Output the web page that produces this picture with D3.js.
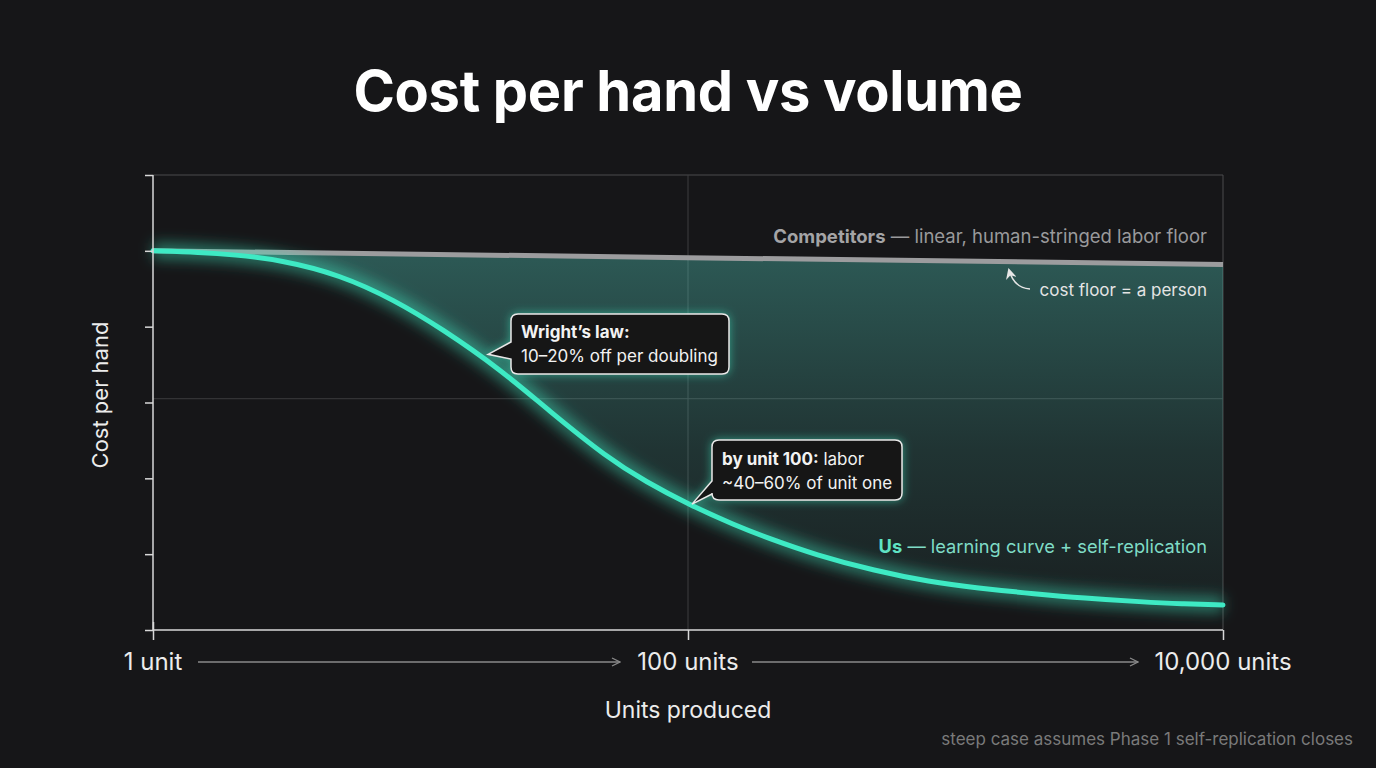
<!DOCTYPE html>
<html>
<head>
<meta charset="utf-8">
<script src="https://cdn.jsdelivr.net/npm/d3@7"></script>
<style>
  html, body { margin: 0; padding: 0; background: #161618; }
  svg { display: block; font-family: Inter, "Noto Sans", sans-serif; }
</style>
</head>
<body>
<svg id="chart" width="1376" height="768"></svg>
<script>
// ---- data ----
const units = [1, 1.5, 2, 3, 5, 8, 12, 20, 30, 50, 70, 100, 150, 200, 300, 500, 800, 1200, 2000, 3000, 5000, 7000, 10000];
const usCost = [100, 99.6, 99, 97.6, 93.7, 87, 79.5, 68.6, 58, 45.4, 39, 33.2, 27.6, 24.2, 19.8, 15.6, 12.7, 11.1, 9.5, 8.4, 7.4, 6.9, 6.6];
const compUnits = [1, 100, 10000];
const compCost = [100, 98.2, 96.4];
const xTickValues = [1, 100, 10000];
const xTickLabels = ["1 unit", "100 units", "10,000 units"];
const yTickValues = [0, 20, 40, 60, 80, 100, 120];

const W = 1376, H = 768;
const m = { left: 153, right: 1223, top: 175, bottom: 630 };
const svg = d3.select("#chart");

svg.append("rect").attr("width", W).attr("height", H).attr("fill", "#161618");

const x = d3.scaleLog().domain([1, 10000]).range([m.left, m.right]);
const y = d3.scaleLinear().domain([0, 120]).range([m.bottom, m.top]);

const defs = svg.append("defs");
const grad = defs.append("linearGradient").attr("id", "fillGrad")
  .attr("gradientUnits", "userSpaceOnUse").attr("x1", 0).attr("y1", y(100)).attr("x2", 0).attr("y2", y(5));
grad.append("stop").attr("offset", 0).attr("stop-color", "#55d2c3").attr("stop-opacity", 0.36);
grad.append("stop").attr("offset", 0.55).attr("stop-color", "#55d2c3").attr("stop-opacity", 0.16);
grad.append("stop").attr("offset", 1).attr("stop-color", "#55d2c3").attr("stop-opacity", 0.05);

const glow = defs.append("filter").attr("id", "glow").attr("x", "-10%").attr("y", "-20%").attr("width", "120%").attr("height", "140%");
glow.append("feGaussianBlur").attr("stdDeviation", 7);

const boxGlow = defs.append("filter").attr("id", "boxGlow").attr("x", "-20%").attr("y", "-40%").attr("width", "140%").attr("height", "180%");
boxGlow.append("feDropShadow").attr("dx", 0).attr("dy", 0).attr("stdDeviation", 5)
  .attr("flood-color", "#3eeac4").attr("flood-opacity", 0.55);

const arrowHead = defs.append("marker").attr("id", "chev").attr("viewBox", "0 0 10 10")
  .attr("refX", 9).attr("refY", 5).attr("markerWidth", 10).attr("markerHeight", 10)
  .attr("markerUnits", "userSpaceOnUse").attr("orient", "auto");
arrowHead.append("path").attr("d", "M1,1 L9,5 L1,9").attr("fill", "none").attr("stroke", "#8a8a8a").attr("stroke-width", 1.3);

const arrowHead2 = defs.append("marker").attr("id", "tri").attr("viewBox", "0 0 10 10")
  .attr("refX", 8).attr("refY", 5).attr("markerWidth", 11).attr("markerHeight", 11)
  .attr("markerUnits", "userSpaceOnUse").attr("orient", "auto");
arrowHead2.append("path").attr("d", "M0,0 L10,5 L0,10 L3,5 Z").attr("fill", "#e6e6e6");

// ---- grid / frame ----
const g = svg.append("g");
g.append("line").attr("x1", m.left).attr("x2", m.right).attr("y1", y(120)).attr("y2", y(120)).attr("stroke", "#4a4a4c").attr("stroke-width", 1);
g.append("line").attr("x1", x(10000)).attr("x2", x(10000)).attr("y1", m.top).attr("y2", m.bottom).attr("stroke", "#4a4a4c").attr("stroke-width", 1);
g.append("line").attr("x1", m.left).attr("x2", m.right).attr("y1", y(61)).attr("y2", y(61)).attr("stroke", "#3c3c3e").attr("stroke-width", 1);
g.append("line").attr("x1", x(100)).attr("x2", x(100)).attr("y1", m.top).attr("y2", m.bottom).attr("stroke", "#3c3c3e").attr("stroke-width", 1);

// ---- fill between ----
const compInterp = u => {
  const lu = Math.log10(u);
  const i = lu <= 2 ? 0 : 1;
  const t = (lu - Math.log10(compUnits[i])) / (Math.log10(compUnits[i + 1]) - Math.log10(compUnits[i]));
  return compCost[i] + t * (compCost[i + 1] - compCost[i]);
};
const areaData = units.map((u, i) => ({ u, lo: usCost[i], hi: compInterp(u) }));
svg.append("path").datum(areaData)
  .attr("d", d3.area().x(d => x(d.u)).y0(d => y(d.lo)).y1(d => y(d.hi)).curve(d3.curveBasis))
  .attr("fill", "url(#fillGrad)");

// ---- competitor line ----
svg.append("path").datum(compUnits.map((u, i) => ({ u, c: compCost[i] })))
  .attr("d", d3.line().x(d => x(d.u)).y(d => y(d.c)))
  .attr("fill", "none").attr("stroke", "#9c9c9e").attr("stroke-width", 5);

// ---- us line (glow + core) ----
const usData = units.map((u, i) => ({ u, c: usCost[i] }));
const usLine = d3.line().x(d => x(d.u)).y(d => y(d.c)).curve(d3.curveBasis);
svg.append("path").datum(usData).attr("d", usLine)
  .attr("fill", "none").attr("stroke", "#3eeac4").attr("stroke-width", 16).attr("stroke-opacity", 0.45)
  .attr("filter", "url(#glow)");
svg.append("path").datum(usData).attr("d", usLine)
  .attr("fill", "none").attr("stroke", "#3eeac4").attr("stroke-width", 5).attr("stroke-linecap", "round");

// ---- axes ----
const yAxis = svg.append("g").attr("transform", `translate(${m.left},0)`)
  .call(d3.axisLeft(y).tickValues(yTickValues).tickSize(8).tickFormat(""));
yAxis.selectAll("path, line").attr("stroke", "#d8d8d8").attr("stroke-width", 1.5);
yAxis.select(".domain").attr("d", `M0,${m.top}V${m.bottom}`);

const xAxis = svg.append("g").attr("transform", `translate(0,${m.bottom})`)
  .call(d3.axisBottom(x).tickValues(xTickValues).tickSize(10).tickFormat(""));
xAxis.selectAll("path, line").attr("stroke", "#d8d8d8").attr("stroke-width", 1.5);
xAxis.select(".domain").attr("d", `M${m.left},0H${m.right}`);
xAxis.select(".tick line").attr("y1", -8);

// x tick labels + arrows
xTickValues.forEach((v, i) => {
  svg.append("text").attr("x", x(v)).attr("y", 670).attr("text-anchor", "middle")
    .attr("fill", "#ececec").attr("font-size", 24).text(xTickLabels[i]);
});
svg.append("line").attr("x1", 198).attr("x2", 620).attr("y1", 662).attr("y2", 662)
  .attr("stroke", "#8a8a8a").attr("stroke-width", 1.3).attr("marker-end", "url(#chev)");
svg.append("line").attr("x1", 752).attr("x2", 1138).attr("y1", 662).attr("y2", 662)
  .attr("stroke", "#8a8a8a").attr("stroke-width", 1.3).attr("marker-end", "url(#chev)");

// axis titles
svg.append("text").attr("x", 688).attr("y", 718).attr("text-anchor", "middle")
  .attr("fill", "#ececec").attr("font-size", 23).text("Units produced");
svg.append("text").attr("transform", "translate(108,395) rotate(-90)").attr("text-anchor", "middle")
  .attr("fill", "#ececec").attr("font-size", 22).text("Cost per hand");

// title
svg.append("text").attr("x", 688).attr("y", 111).attr("text-anchor", "middle")
  .attr("fill", "#ffffff").attr("font-size", 56).attr("font-weight", 700).attr("letter-spacing", -0.3)
  .text("Cost per hand vs volume");

// footnote
svg.append("text").attr("x", 1353).attr("y", 745).attr("text-anchor", "end")
  .attr("fill", "#7a7a7a").attr("font-size", 17).text("steep case assumes Phase 1 self-replication closes");

// ---- series labels ----
const compLbl = svg.append("text").attr("x", 1207).attr("y", 243).attr("text-anchor", "end")
  .attr("font-size", 18.5).attr("fill", "#9a9a9c");
compLbl.append("tspan").attr("font-weight", 700).attr("fill", "#a4a4a6").text("Competitors");
compLbl.append("tspan").text(" — linear, human-stringed labor floor");

svg.append("text").attr("x", 1207).attr("y", 296).attr("text-anchor", "end")
  .attr("font-size", 17).attr("fill", "#e4e4e4").text("cost floor = a person");
svg.append("path").attr("d", "M1030,289 Q1014,288 1009,270")
  .attr("fill", "none").attr("stroke", "#e6e6e6").attr("stroke-width", 1.5).attr("marker-end", "url(#tri)");

const usLbl = svg.append("text").attr("x", 1207).attr("y", 553).attr("text-anchor", "end")
  .attr("font-size", 18.3).attr("fill", "#7fdcc6");
usLbl.append("tspan").attr("font-weight", 700).attr("fill", "#5fe3c4").text("Us");
usLbl.append("tspan").text(" — learning curve + self-replication");

// ---- callouts ----
function callout(bx, by, bw, bh, tip, baseY1, baseY2) {
  const r = 7;
  const [tx, ty] = tip;
  const d = `M${bx + r},${by} H${bx + bw - r} Q${bx + bw},${by} ${bx + bw},${by + r}
    V${by + bh - r} Q${bx + bw},${by + bh} ${bx + bw - r},${by + bh} H${bx + r}
    Q${bx},${by + bh} ${bx},${by + bh - r} V${baseY2} L${tx},${ty} L${bx},${baseY1}
    V${by + r} Q${bx},${by} ${bx + r},${by} Z`;
  svg.append("path").attr("d", d).attr("fill", "#141416").attr("stroke", "#e8e8e8")
    .attr("stroke-width", 1.5).attr("filter", "url(#boxGlow)");
}
const tip1 = [x(17.9), y(72.7)];
callout(511, 314, 218, 60, tip1, 342, 359);
const t1 = svg.append("g").attr("font-size", 17).attr("fill", "#f2f2f2");
t1.append("text").attr("x", 521).attr("y", 338).attr("font-weight", 700).text("Wright’s law:");
t1.append("text").attr("x", 521).attr("y", 362).text("10–20% off per doubling");

const tip2 = [x(100) + 4, y(33.2)];
callout(712, 440, 190, 60, tip2, 481, 494);
const t2 = svg.append("g").attr("font-size", 17).attr("fill", "#f2f2f2");
const l1 = t2.append("text").attr("x", 722).attr("y", 465);
l1.append("tspan").attr("font-weight", 700).text("by unit 100:");
l1.append("tspan").text(" labor");
t2.append("text").attr("x", 722).attr("y", 489).text("~40–60% of unit one");
</script>
</body>
</html>
